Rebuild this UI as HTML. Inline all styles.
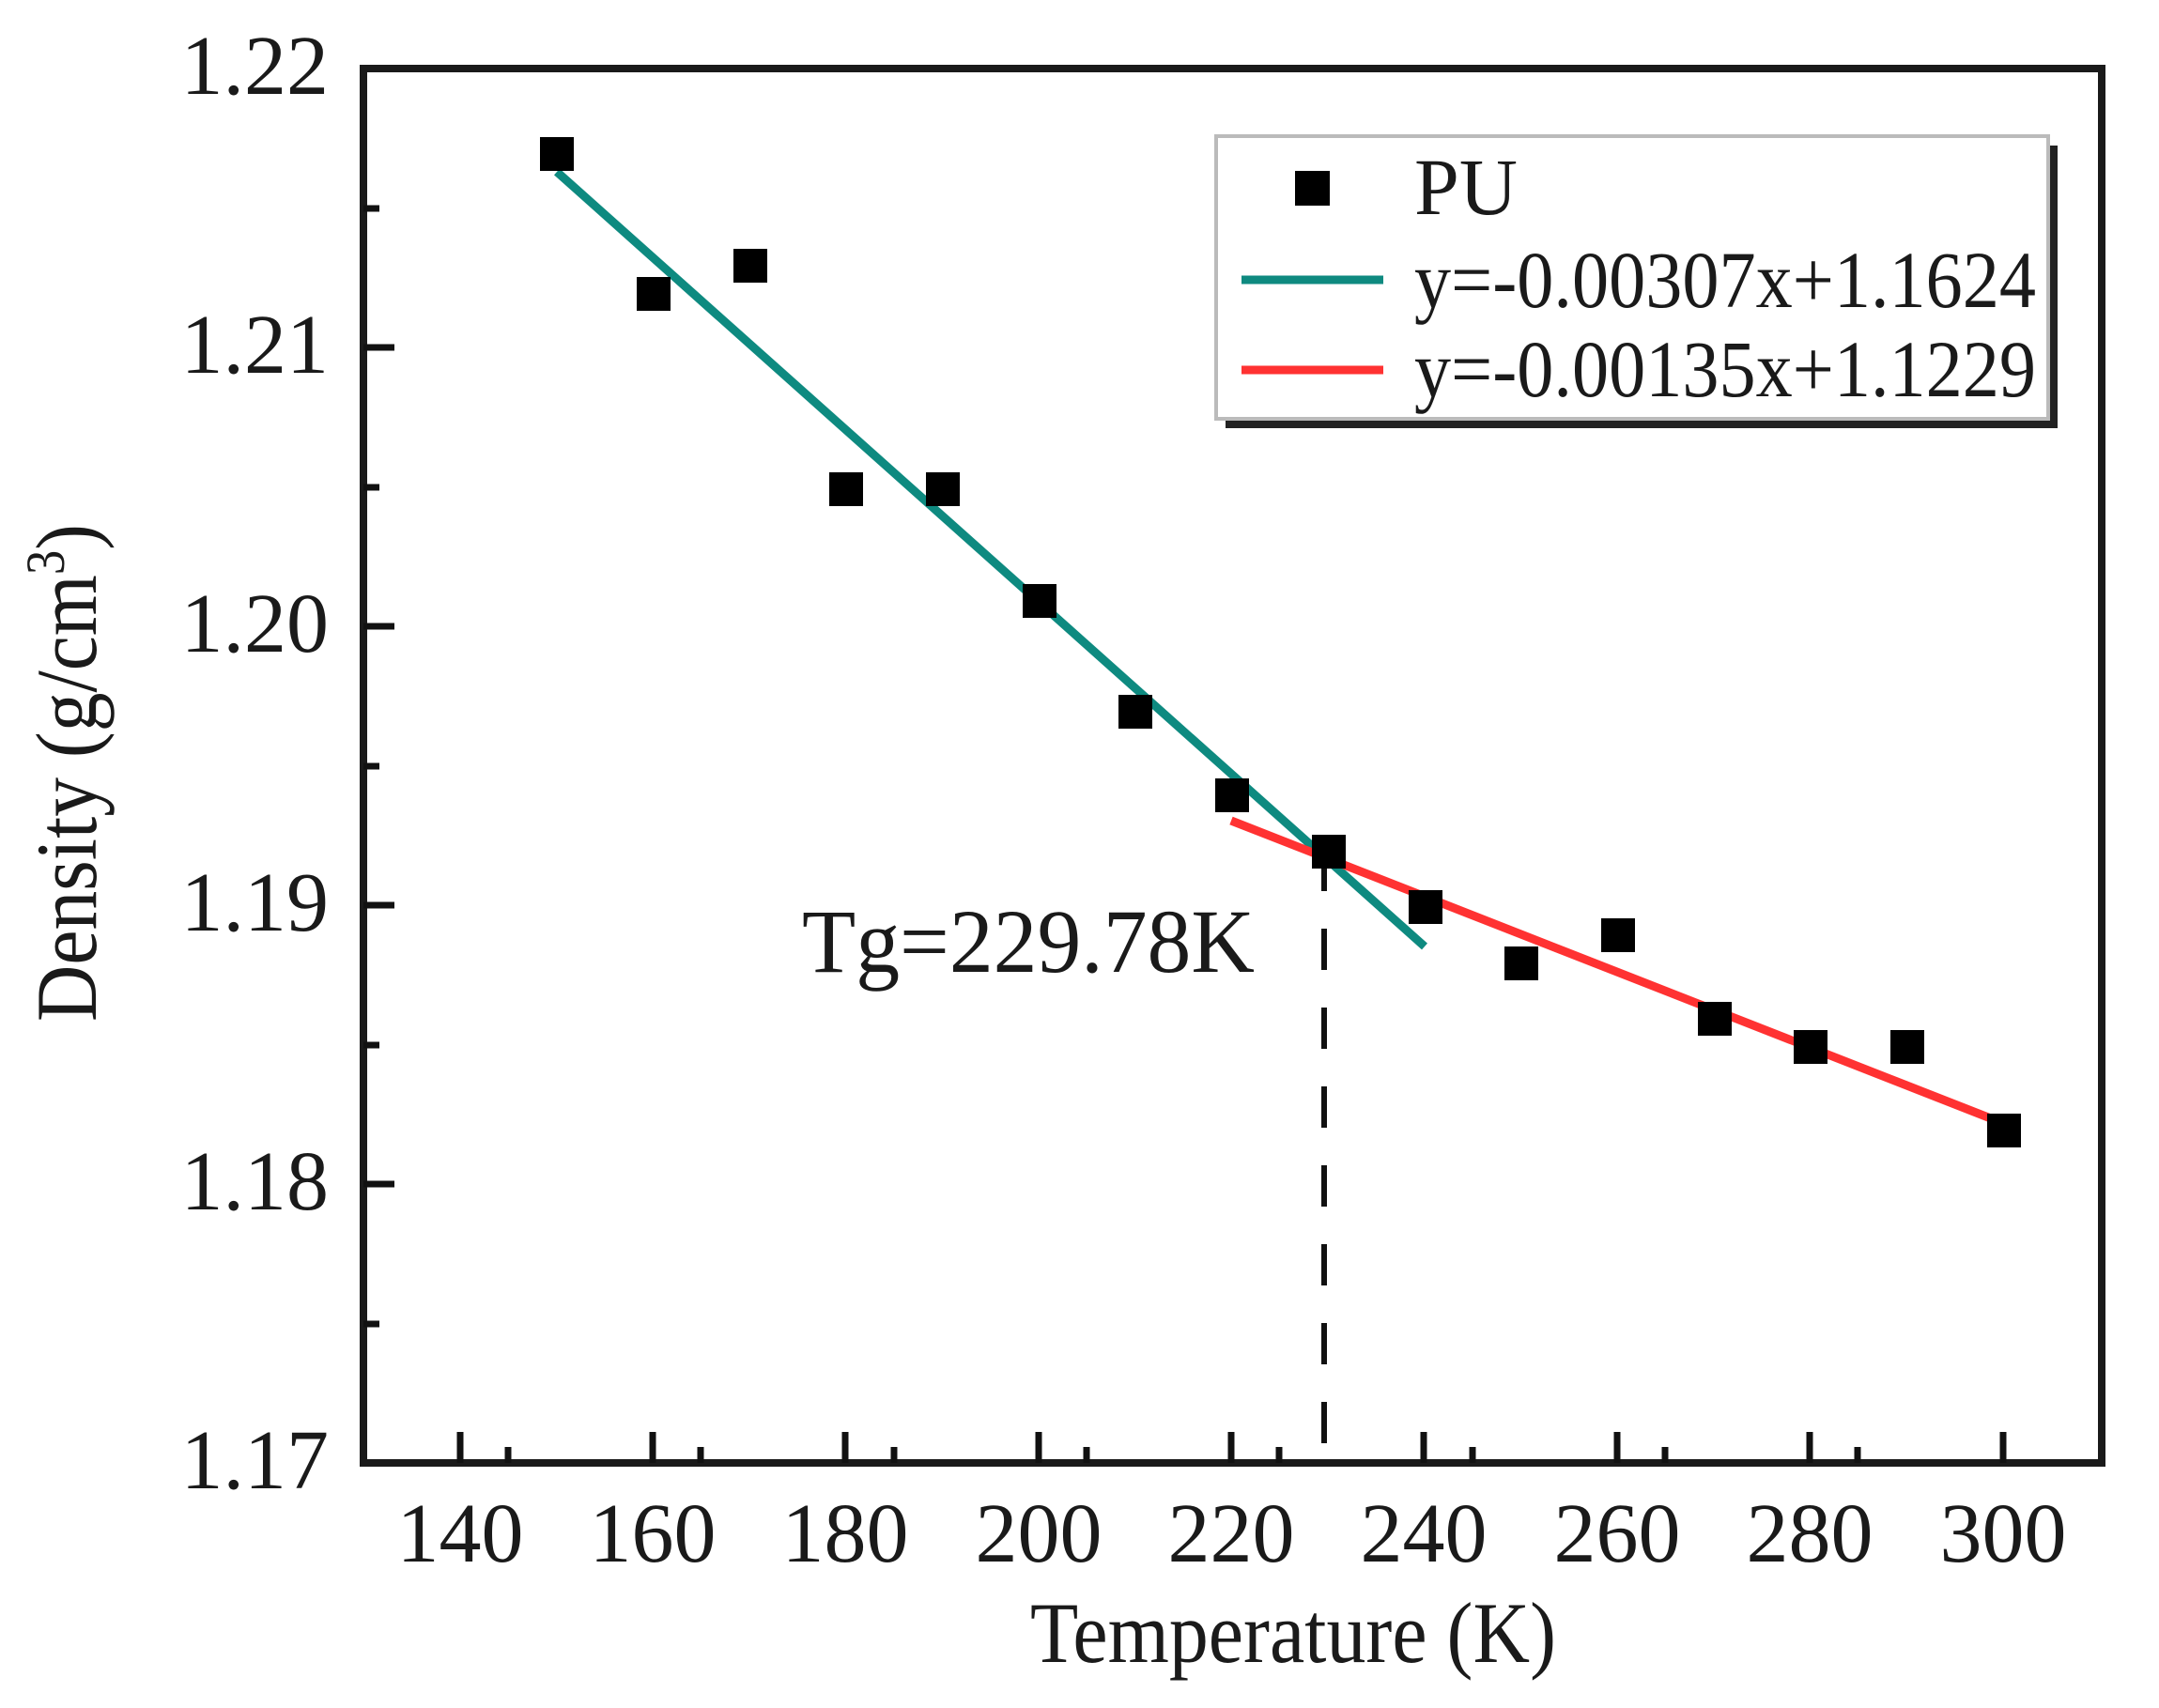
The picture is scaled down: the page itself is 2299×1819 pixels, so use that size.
<!DOCTYPE html>
<html><head><meta charset="utf-8"><style>html,body{margin:0;padding:0;background:#fff}svg{display:block}</style></head>
<body>
<svg width="2299" height="1819" viewBox="0 0 2299 1819" xmlns="http://www.w3.org/2000/svg" font-family="'Liberation Serif', serif" fill="#1a1a1a">
<rect width="2299" height="1819" fill="#fff"/>
<line x1="1410" y1="905" x2="1410" y2="1555" stroke="#111" stroke-width="6" stroke-dasharray="44,40"/>
<line x1="593" y1="183" x2="1517" y2="1008" stroke="#0e8a80" stroke-width="9"/>
<line x1="1311" y1="874" x2="2135" y2="1197" stroke="#ff3232" stroke-width="9"/>
<g fill="#000">
<rect x="575" y="146" width="36" height="36"/>
<rect x="678" y="295" width="36" height="36"/>
<rect x="781" y="265" width="36" height="36"/>
<rect x="883" y="503" width="36" height="36"/>
<rect x="986" y="503" width="36" height="36"/>
<rect x="1089" y="622" width="36" height="36"/>
<rect x="1191" y="740" width="36" height="36"/>
<rect x="1294" y="829" width="36" height="36"/>
<rect x="1397" y="889" width="36" height="36"/>
<rect x="1500" y="948" width="36" height="36"/>
<rect x="1602" y="1008" width="36" height="36"/>
<rect x="1705" y="978" width="36" height="36"/>
<rect x="1808" y="1067" width="36" height="36"/>
<rect x="1910" y="1097" width="36" height="36"/>
<rect x="2013" y="1097" width="36" height="36"/>
<rect x="2116" y="1186" width="36" height="36"/>
</g>
<rect x="387" y="73" width="1851" height="1485" fill="none" stroke="#1a1a1a" stroke-width="8"/>
<g stroke="#111" stroke-width="7">
<line x1="490" y1="1558" x2="490" y2="1525"/><line x1="541" y1="1558" x2="541" y2="1541"/>
<line x1="695" y1="1558" x2="695" y2="1525"/><line x1="746" y1="1558" x2="746" y2="1541"/>
<line x1="900" y1="1558" x2="900" y2="1525"/><line x1="952" y1="1558" x2="952" y2="1541"/>
<line x1="1106" y1="1558" x2="1106" y2="1525"/><line x1="1157" y1="1558" x2="1157" y2="1541"/>
<line x1="1311" y1="1558" x2="1311" y2="1525"/><line x1="1362" y1="1558" x2="1362" y2="1541"/>
<line x1="1516" y1="1558" x2="1516" y2="1525"/><line x1="1568" y1="1558" x2="1568" y2="1541"/>
<line x1="1722" y1="1558" x2="1722" y2="1525"/><line x1="1773" y1="1558" x2="1773" y2="1541"/>
<line x1="1927" y1="1558" x2="1927" y2="1525"/><line x1="1978" y1="1558" x2="1978" y2="1541"/>
<line x1="2133" y1="1558" x2="2133" y2="1525"/>
<line x1="387" y1="370" x2="420" y2="370"/><line x1="387" y1="667" x2="420" y2="667"/>
<line x1="387" y1="964" x2="420" y2="964"/><line x1="387" y1="1261" x2="420" y2="1261"/>
<line x1="387" y1="222" x2="404" y2="222"/><line x1="387" y1="519" x2="404" y2="519"/>
<line x1="387" y1="816" x2="404" y2="816"/><line x1="387" y1="1113" x2="404" y2="1113"/>
<line x1="387" y1="1410" x2="404" y2="1410"/>
</g>
<g font-size="90" text-anchor="end">
<text x="350" y="100">1.22</text>
<text x="350" y="397">1.21</text>
<text x="350" y="694">1.20</text>
<text x="350" y="991">1.19</text>
<text x="350" y="1288">1.18</text>
<text x="350" y="1585">1.17</text>
</g>
<g font-size="90" text-anchor="middle">
<text x="490" y="1663">140</text><text x="695" y="1663">160</text><text x="900" y="1663">180</text>
<text x="1106" y="1663">200</text><text x="1311" y="1663">220</text><text x="1516" y="1663">240</text>
<text x="1722" y="1663">260</text><text x="1927" y="1663">280</text><text x="2133" y="1663">300</text>
</g>
<text x="1377" y="1770" font-size="92" text-anchor="middle" textLength="560" lengthAdjust="spacingAndGlyphs">Temperature (K)</text>
<text transform="translate(102,823) rotate(-90)" font-size="92" text-anchor="middle" textLength="530" lengthAdjust="spacingAndGlyphs">Density (g/cm<tspan font-size="58" dy="-34">3</tspan><tspan dy="34">)</tspan></text>
<text x="854" y="1035" font-size="96" textLength="482" lengthAdjust="spacingAndGlyphs">Tg=229.78K</text>
<rect x="1305" y="155" width="886" height="301" fill="#222"/>
<rect x="1295" y="145" width="886" height="301" fill="#fff" stroke="#bbb" stroke-width="4"/>
<rect x="1379" y="182" width="37" height="37" fill="#000"/>
<line x1="1322" y1="298" x2="1473" y2="298" stroke="#0e8a80" stroke-width="9"/>
<line x1="1322" y1="394" x2="1473" y2="394" stroke="#ff3232" stroke-width="9"/>
<g font-size="86">
<text x="1506" y="228">PU</text>
<text x="1506" y="327" textLength="662" lengthAdjust="spacingAndGlyphs">y=-0.00307x+1.1624</text>
<text x="1506" y="422" textLength="662" lengthAdjust="spacingAndGlyphs">y=-0.00135x+1.1229</text>
</g>
</svg>
</body></html>
